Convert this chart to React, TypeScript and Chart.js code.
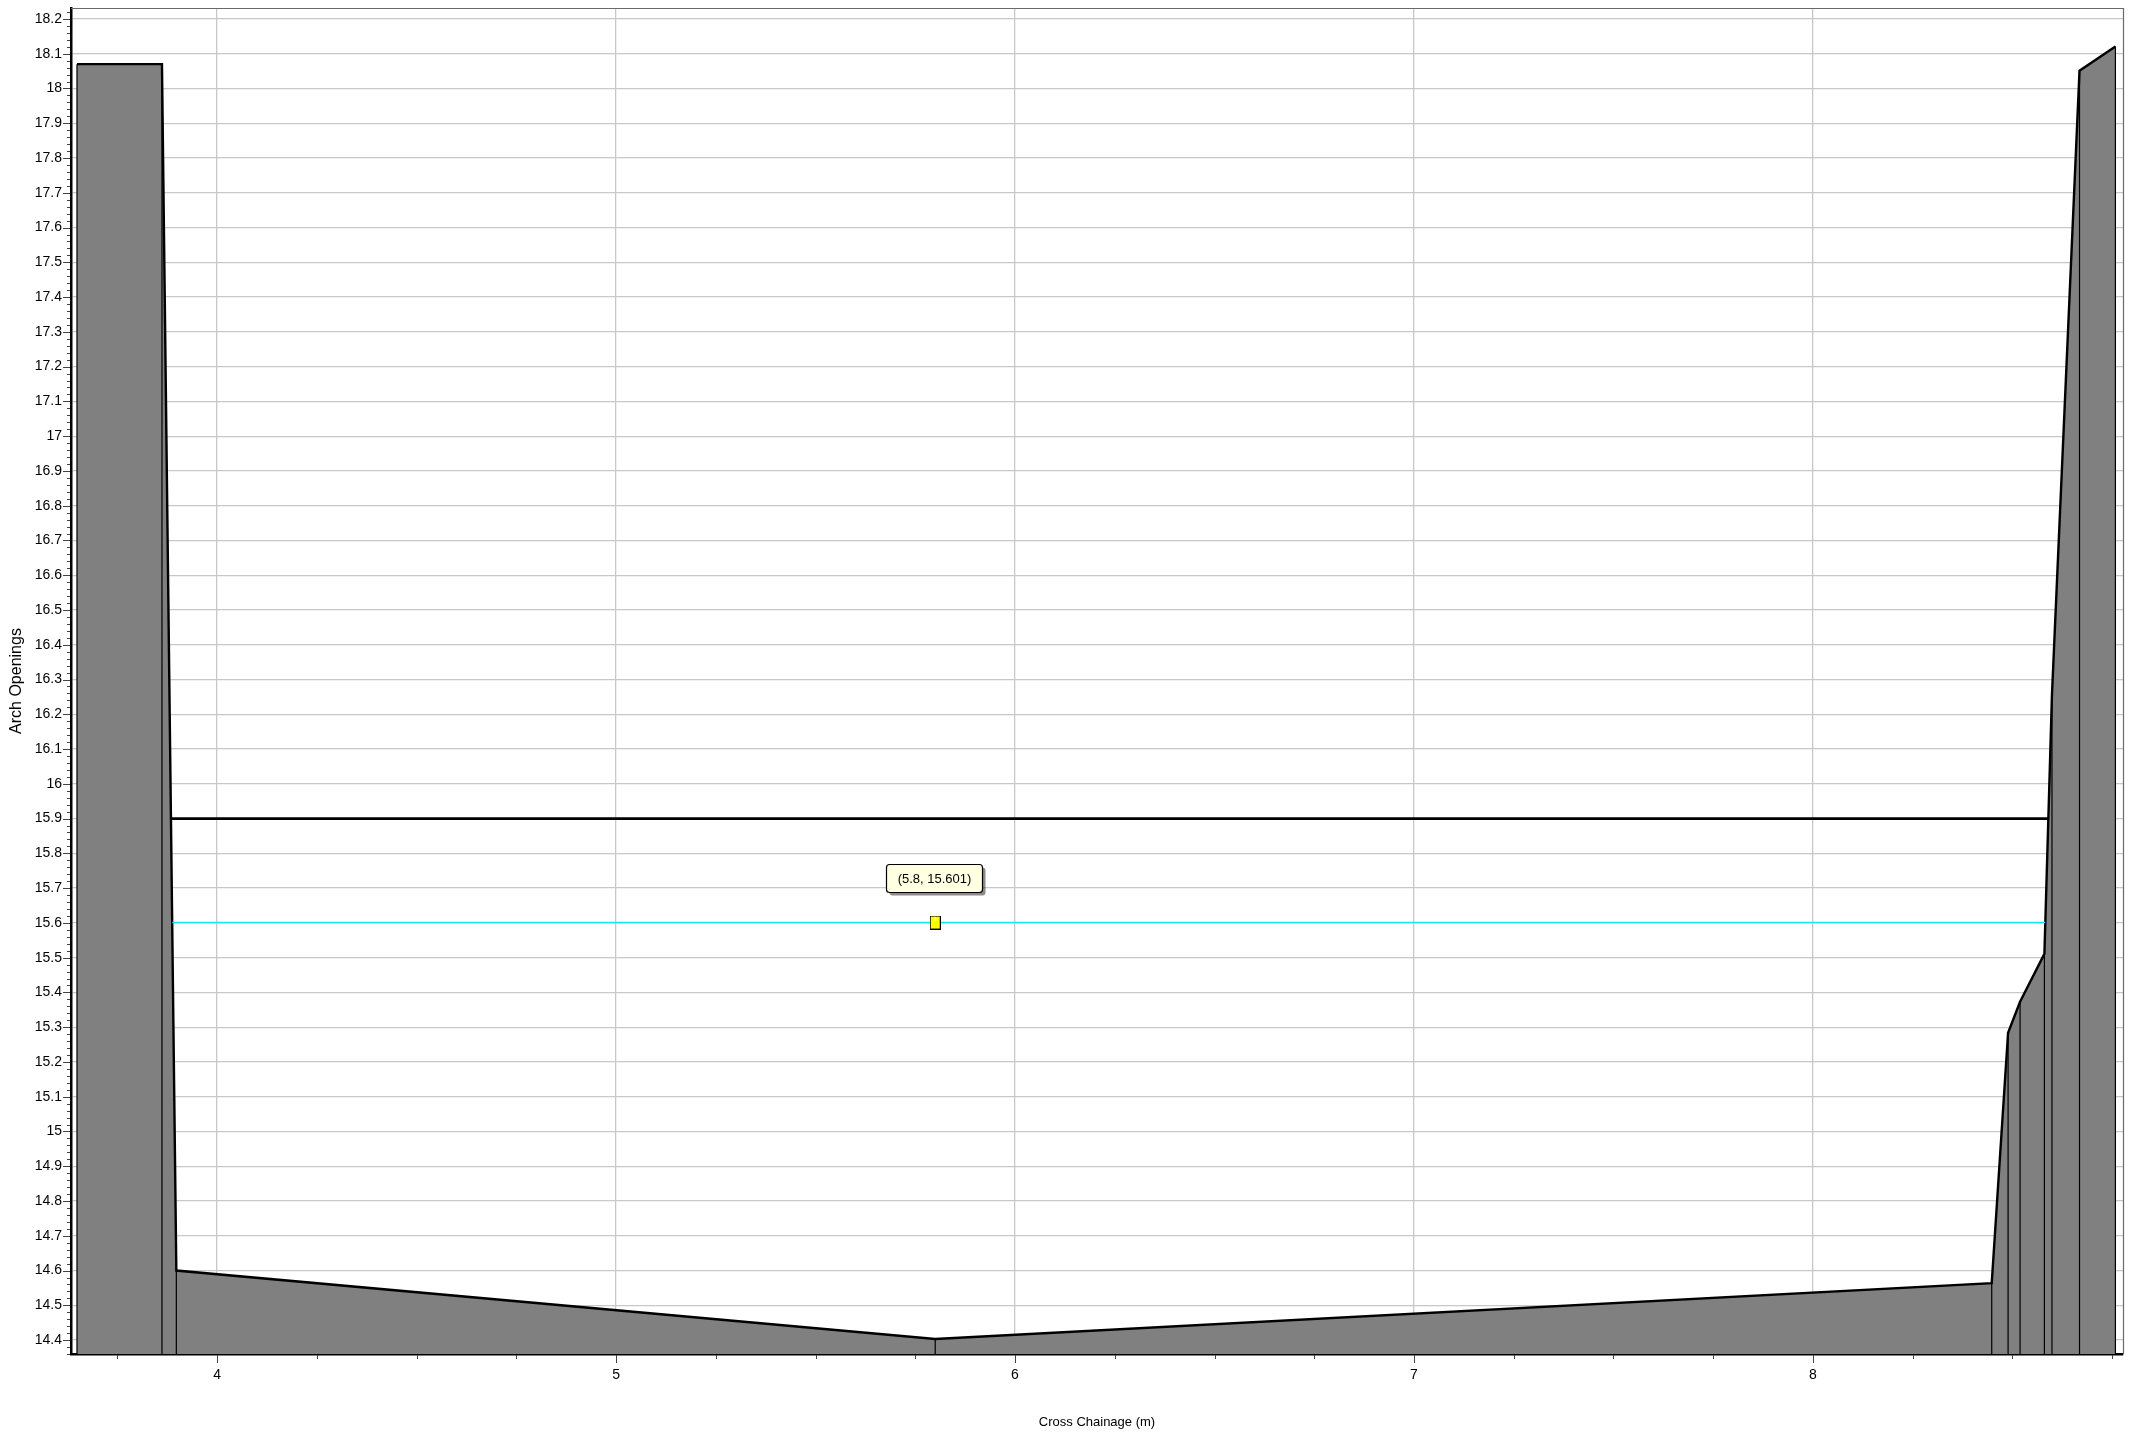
import React, { useEffect, useRef } from 'react';
import { Chart, registerables } from 'chart.js';

Chart.register(...registerables);

// ---- data ----
const groundX = [3.649, 3.862, 3.898, 5.8, 8.448, 8.489, 8.519, 8.58, 8.599, 8.668, 8.758];
const groundY = [18.07, 18.07, 14.6, 14.403, 14.564, 15.284, 15.373, 15.511, 16.258, 18.051, 18.121];

const levelX = [3.885, 8.59];
const levelY = [15.9, 15.9];

const waterX = [3.888, 8.582];
const waterY = [15.601, 15.601];

const markerX = [5.8];
const markerY = [15.601];

const xTicks = [4, 5, 6, 7, 8];
const yTicks = [
  14.4, 14.5, 14.6, 14.7, 14.8, 14.9, 15, 15.1, 15.2, 15.3, 15.4, 15.5, 15.6, 15.7,
  15.8, 15.9, 16, 16.1, 16.2, 16.3, 16.4, 16.5, 16.6, 16.7, 16.8, 16.9, 17, 17.1,
  17.2, 17.3, 17.4, 17.5, 17.6, 17.7, 17.8, 17.9, 18, 18.1, 18.2,
];

const xRange = [3.634, 8.777];
const yRange = [14.36, 18.2315];

const xTitle = 'Cross Chainage (m)';
const yTitle = 'Arch Openings';

const FONT = "'Liberation Sans', Arial, Helvetica, sans-serif";

const pts = (xs: number[], ys: number[]) => xs.map((x, i) => ({ x, y: ys[i] }));

const GROUND = 0;
const MARKER = 3;

const verticalsPlugin = {
  id: 'verticals',
  beforeDatasetDraw(chart: any, args: any) {
    if (args.index !== GROUND) return;
    const { ctx, chartArea: a } = chart;
    ctx.save();
    ctx.beginPath();
    ctx.rect(a.left, a.top, a.right - a.left, a.bottom - a.top);
    ctx.clip();
    ctx.strokeStyle = '#000';
    ctx.lineWidth = 1.2;
    ctx.beginPath();
    args.meta.data.forEach((p: any) => {
      ctx.moveTo(p.x, a.bottom);
      ctx.lineTo(p.x, p.y);
    });
    ctx.stroke();
    ctx.restore();
  },
};

const decorPlugin = {
  id: 'decor',
  afterDraw(chart: any) {
    const { ctx, chartArea: a, scales } = chart;
    const x = scales.x;
    const y = scales.y;
    ctx.save();
    // frame top / right
    ctx.strokeStyle = '#6a6a6a';
    ctx.lineWidth = 1.2;
    ctx.beginPath();
    ctx.moveTo(a.left, a.top + 0.5);
    ctx.lineTo(a.right + 0.5, a.top + 0.5);
    ctx.lineTo(a.right + 0.5, a.bottom);
    ctx.stroke();

    // minor / major tick marks
    ctx.strokeStyle = '#444';
    ctx.lineWidth = 1;
    ctx.beginPath();
    const yStep = 0.02;
    for (let i = Math.ceil(y.min / yStep - 1e-6); i * yStep <= y.max + 1e-6; i++) {
      const py = Math.round(y.getPixelForValue(i * yStep)) + 0.5;
      const len = i % 5 === 0 ? 8 : 4;
      ctx.moveTo(a.left - len, py);
      ctx.lineTo(a.left - 1, py);
    }
    const xStep = 0.25;
    for (let i = Math.ceil(x.min / xStep - 1e-6); i * xStep <= x.max + 1e-6; i++) {
      const px = Math.round(x.getPixelForValue(i * xStep)) + 0.5;
      const len = i % 4 === 0 ? 9 : 5;
      ctx.moveTo(px, a.bottom + 1);
      ctx.lineTo(px, a.bottom + len);
    }
    ctx.stroke();

    // tooltip-like label
    const p = chart.getDatasetMeta(MARKER).data[0];
    if (p) {
      const text = `(${markerX[0]}, ${markerY[0]})`;
      ctx.font = `13px ${FONT}`;
      const tw = ctx.measureText(text).width;
      const w = Math.round(tw + 22);
      const h = 28;
      const cx = p.x - 1;
      const cy = p.y - 44.5;
      const x0 = Math.round(cx - w / 2) + 0.5;
      const y0 = Math.round(cy - h / 2) + 0.5;
      ctx.fillStyle = 'rgba(0,0,0,0.45)';
      ctx.beginPath();
      ctx.roundRect(x0 + 3, y0 + 3, w, h, 3);
      ctx.fill();
      ctx.fillStyle = '#ffffe1';
      ctx.beginPath();
      ctx.roundRect(x0, y0, w, h, 3);
      ctx.fill();
      ctx.strokeStyle = '#000';
      ctx.lineWidth = 1.2;
      ctx.stroke();
      ctx.fillStyle = '#000';
      ctx.textAlign = 'center';
      ctx.textBaseline = 'middle';
      ctx.fillText(text, x0 + w / 2, y0 + h / 2 + 0.5);
    }
    ctx.restore();
  },
};

export default function App() {
  const ref = useRef<HTMLCanvasElement>(null);

  useEffect(() => {
    document.body.style.margin = '0';
    document.body.style.overflow = 'hidden';
    const canvas = ref.current;
    if (!canvas) return;

    const marker = document.createElement('canvas');
    marker.width = 11;
    marker.height = 14;
    const mctx = marker.getContext('2d')!;
    mctx.fillStyle = '#ffff00';
    mctx.fillRect(0, 0, 11, 14);
    mctx.strokeStyle = '#000';
    mctx.lineWidth = 1;
    mctx.strokeRect(0.5, 0.5, 10, 13);
    mctx.fillStyle = '#ffffff';
    mctx.fillRect(5, 1, 1, 4);

    const chart = new Chart(canvas, {
      type: 'line',
      data: {
        datasets: [
          {
            data: pts(groundX, groundY),
            borderColor: '#000',
            borderWidth: 2.4,
            backgroundColor: '#808080',
            fill: 'start',
            pointRadius: 0,
            tension: 0,
            order: 4,
          },
          {
            data: pts(levelX, levelY),
            borderColor: '#000',
            borderWidth: 2.6,
            fill: false,
            pointRadius: 0,
            order: 3,
          },
          {
            data: pts(waterX, waterY),
            borderColor: 'rgb(20,232,240)',
            borderWidth: 1.4,
            fill: false,
            pointRadius: 0,
            order: 2,
          },
          {
            data: pts(markerX, markerY),
            showLine: false,
            pointStyle: marker as any,
            pointRadius: 7,
            order: 1,
          },
        ],
      } as any,
      options: {
        animation: false,
        responsive: false,
        devicePixelRatio: 1,
        events: [],
        layout: { padding: { top: 4, right: 17, bottom: 0, left: 0 } },
        plugins: {
          legend: { display: false },
          tooltip: { enabled: false },
        },
        scales: {
          x: {
            type: 'linear',
            min: xRange[0],
            max: xRange[1],
            afterBuildTicks(s: any) {
              s.ticks = xTicks.map((v) => ({ value: v }));
            },
            afterFit(s: any) {
              s.height = 81;
              s.paddingLeft = 0;
              s.paddingRight = 0;
            },
            grid: { color: '#c8c8c8', lineWidth: 1.3, drawTicks: false },
            border: { color: '#000', width: 2.5 },
            ticks: {
              padding: 13,
              color: '#000',
              font: { family: FONT, size: 14 },
              maxRotation: 0,
              autoSkip: false,
              callback: (v: any) => String(v),
            },
            title: {
              display: true,
              text: xTitle,
              color: '#000',
              font: { family: FONT, size: 13 },
              padding: { top: 0, bottom: 5 },
            },
          },
          y: {
            type: 'linear',
            min: yRange[0],
            max: yRange[1],
            afterBuildTicks(s: any) {
              s.ticks = yTicks.map((v) => ({ value: v }));
            },
            afterFit(s: any) {
              s.width = 71;
              s.paddingTop = 0;
              s.paddingBottom = 0;
            },
            grid: { color: '#c8c8c8', lineWidth: 1.3, drawTicks: false },
            border: { color: '#000', width: 2.5 },
            ticks: {
              padding: 9,
              color: '#000',
              font: { family: FONT, size: 14 },
              autoSkip: false,
              callback: (v: any) => String(v),
            },
            title: {
              display: true,
              text: yTitle,
              color: '#000',
              font: { family: FONT, size: 16 },
              padding: { top: 7, bottom: 0 },
            },
          },
        },
      } as any,
      plugins: [verticalsPlugin, decorPlugin],
    });

    return () => chart.destroy();
  }, []);

  return (
    <div style={{ width: 2140, height: 1435 }}>
      <canvas
        ref={ref}
        width={2140}
        height={1435}
        style={{ display: 'block', width: 2140, height: 1435 }}
      />
    </div>
  );
}
